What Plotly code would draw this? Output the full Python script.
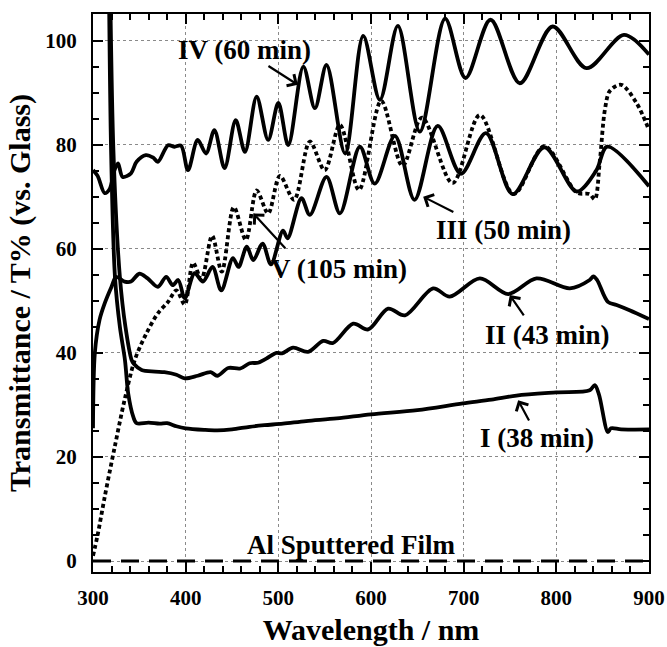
import plotly.graph_objects as go

# Transmittance spectra (T% relative to glass) of films anodised for different times
wl_I = [316.5, 319.5, 323.7, 329, 334.5, 338, 343.5, 347, 360, 372, 380, 390, 400, 420, 434, 450,
        469, 485, 505, 530, 563, 600, 650, 699, 730, 757, 800, 836, 841.5, 846, 855.6, 859, 870, 900]
T_I = [125, 79, 54.6, 45, 38.6, 32.2, 27.7, 26.5, 26.6, 26.4, 26.5, 25.9, 25.5, 25.2, 25.1, 25.3,
       25.8, 26.1, 26.4, 26.9, 27.4, 28.2, 29.0, 30.3, 31.0, 31.8, 32.4, 32.8, 33.8, 32.0, 24.8, 25.5, 25.3, 25.3]

wl_II = [317.5, 322, 329, 335, 341.7, 344, 352.5, 367, 377, 390, 399, 413, 427, 434, 446, 459, 469,
         478, 487, 498, 504, 516, 532, 548.4, 559, 580.8, 597, 618.5, 636.6, 667, 685, 717.5, 748,
         778.6, 814.6, 836, 840, 844, 855.6, 865, 879, 900]
T_II = [125, 79, 54.6, 45, 38.6, 37.9, 36.7, 36.4, 36.3, 35.8, 35.1, 35.6, 36.3, 35.6, 37.1, 37.0, 38.0,
        38.1, 38.9, 40.0, 39.9, 41.0, 40.2, 42.3, 41.9, 45.6, 44.5, 48.5, 47.2, 52.4, 50.8, 54.3, 51.3,
        54.3, 52.4, 54.0, 54.7, 54.0, 49.8, 49.2, 48.2, 46.5]

wl_III = [300, 302, 307, 312.6, 320, 325, 334, 341, 350, 359, 370, 379, 386, 392, 399, 409.7, 418.7,
          429, 438.4, 451, 457, 466, 473, 483, 492, 505, 510, 525, 534, 552, 566.5, 588, 604, 625.8,
          647, 672, 697, 724, 753, 787, 822, 843, 855, 900]
T_III = [25.5, 40.0, 46.3, 49.5, 52.7, 54.6, 53.7, 53.7, 55.2, 54.3, 52.7, 54.6, 53.0, 54.0, 50.5, 55.3, 53.7,
         56.5, 52.0, 58.2, 56.5, 60.4, 57.8, 61.0, 57.0, 63.5, 62.0, 69.7, 66.5, 73.8, 66.8, 79.6, 72.5, 81.7,
         69.4, 83.6, 74.4, 82.2, 70.5, 79.5, 71.0, 75.0, 79.6, 72.0]

wl_IV = [300, 305, 312.6, 318, 323, 327, 332, 341, 347, 357, 365, 370, 381, 388, 395, 402.5, 413, 422,
         431, 442, 454, 464, 476.6, 489, 500, 510.7, 527, 539.5, 552, 572, 591.6, 609.6, 629, 652.7,
         680, 702, 729, 760.6, 796, 832.6, 873, 900]
T_IV = [75.1, 74.0, 70.7, 71.5, 75.0, 76.4, 73.8, 74.5, 76.7, 78.0, 77.5, 76.7, 79.9, 79.6, 79.8, 75.1, 80.9, 78.3,
        82.8, 75.5, 84.7, 78.6, 89.2, 80.9, 88.0, 79.9, 95.0, 87.0, 95.3, 78.3, 100.9, 88.6, 102.8, 82.5,
        104.2, 92.8, 104.0, 91.8, 102.7, 94.7, 101.1, 97.3]

wl_V = [300, 305, 312.6, 323.4, 334, 345, 357.5, 370, 381, 390, 399, 408, 417, 428.5, 439, 452, 465,
        476.6, 489, 501.7, 517, 534, 550, 566.5, 587, 611, 634, 655, 688, 717.5, 754, 787, 822, 836,
        841.5, 847, 852.4, 857.7, 870, 886.5, 900]
T_V = [1.0, 5.0, 12.3, 21.9, 30.9, 38.6, 43.7, 47.6, 49.8, 52.0, 49.3, 57.3, 54.2, 62.5, 55.6, 68.0, 61.7,
       71.2, 66.8, 74.0, 69.4, 80.6, 75.1, 83.8, 71.3, 88.4, 75.9, 85.2, 72.6, 85.7, 70.5, 79.7, 70.8, 70.5,
       69.5, 77.0, 86.7, 90.3, 91.5, 88.0, 82.8]

wl_Al = [300, 900]
T_Al = [0, 0]

# Curve labels: text, label centre, arrow head, arrow tail (data units)
label_text = ["IV (60 min)", "V (105 min)", "III (50 min)", "II (43 min)", "I (38 min)"]
label_x = [464, 565, 743, 791, 779.5]
label_y = [98.2, 56.2, 63.6, 43.4, 23.6]
head_x = [521, 473, 656.3, 749.8, 758.8]
head_y = [91.5, 66.8, 70.0, 51.1, 30.9]
tail_x = [487.7, 509, 690.5, 766, 771.4]
tail_y = [95.3, 59.8, 66.9, 46.9, 26.7]

al_label = "Al Sputtered Film"
al_x, al_y = 579, 3.0

FONT = "Liberation Serif"

fig = go.Figure()

solid = dict(color="black", width=3.8, shape="spline", smoothing=0.9)
fig.add_trace(go.Scatter(x=wl_I, y=T_I, mode="lines", line=solid, name="I"))
fig.add_trace(go.Scatter(x=wl_II, y=T_II, mode="lines", line=solid, name="II"))
fig.add_trace(go.Scatter(x=wl_III, y=T_III, mode="lines", line=solid, name="III"))
fig.add_trace(go.Scatter(x=wl_IV, y=T_IV, mode="lines", line=solid, name="IV"))
fig.add_trace(go.Scatter(x=wl_V, y=T_V, mode="lines",
                         line=dict(color="black", width=3.8, dash="4px,3px", shape="spline", smoothing=0.9),
                         name="V"))
fig.add_trace(go.Scatter(x=wl_Al, y=T_Al, mode="lines",
                         line=dict(color="black", width=3, dash="18px,10px"), name="Al"))

annotations = []
for t, lx, ly in zip(label_text, label_x, label_y):
    annotations.append(dict(x=lx, y=ly, text=f"<b>{t}</b>", showarrow=False,
                            font=dict(family=FONT, size=27, color="black"),
                            xanchor="center", yanchor="middle"))
for hx, hy, tx, ty in zip(head_x, head_y, tail_x, tail_y):
    annotations.append(dict(x=hx, y=hy, ax=tx, ay=ty, axref="x", ayref="y", text="",
                            showarrow=True, arrowhead=4, arrowsize=1.2, arrowwidth=2.2,
                            arrowcolor="black"))
annotations.append(dict(x=al_x, y=al_y, text=f"<b>{al_label}</b>", showarrow=False,
                        font=dict(family=FONT, size=27, color="black"),
                        xanchor="center", yanchor="middle"))

axis_common = dict(
    showline=True, linecolor="black", linewidth=2, mirror="allticks",
    ticks="inside", ticklen=10, tickwidth=1.5, tickcolor="black",
    showgrid=True, gridcolor="#8a8a8a", gridwidth=1, griddash="dot",
    zeroline=False, automargin=False,
    tickfont=dict(family=FONT, size=21, color="black", weight="bold"),
)

fig.update_layout(
    width=667, height=647,
    margin=dict(l=93, r=18, t=14, b=75),
    paper_bgcolor="white", plot_bgcolor="white",
    showlegend=False,
    annotations=annotations,
    xaxis=dict(
        range=[300, 900], tick0=300, dtick=100,
        minor=dict(dtick=20, ticks="inside", ticklen=6, tickwidth=1.5, tickcolor="black", showgrid=False),
        title=dict(text="<b>Wavelength / nm</b>", font=dict(family=FONT, size=30, color="black"), standoff=10),
        ticklabelstandoff=6,
        **axis_common,
    ),
    yaxis=dict(
        range=[-2.1, 105.1], tick0=0, dtick=20,
        minor=dict(dtick=5, ticks="inside", ticklen=6, tickwidth=1.5, tickcolor="black", showgrid=False),
        title=dict(text="<b>Transmittance / T% (vs. Glass)</b>", font=dict(family=FONT, size=30, color="black"),
                   standoff=6),
        ticklabelstandoff=10,
        **axis_common,
    ),
)

fig.write_html("out.html")
